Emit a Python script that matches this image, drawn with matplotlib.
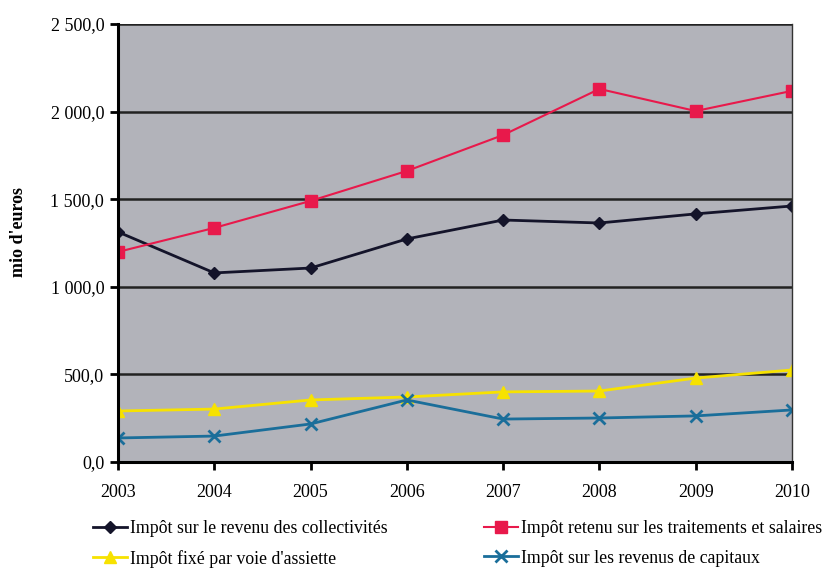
import matplotlib
matplotlib.use("Agg")
import matplotlib.pyplot as plt
from matplotlib.ticker import FuncFormatter

years = [2003, 2004, 2005, 2006, 2007, 2008, 2009, 2010]
collectivites = [1313, 1079, 1107, 1273, 1381, 1364, 1416, 1461]
salaires = [1199, 1336, 1490, 1661, 1866, 2129, 2003, 2118]
assiette = [291, 302, 354, 371, 400, 405, 479, 525]
capitaux = [137, 148, 217, 354, 245, 251, 263, 297]

labels = ["Impôt sur le revenu des collectivités",
          "Impôt retenu sur les traitements et salaires",
          "Impôt fixé par voie d'assiette",
          "Impôt sur les revenus de capitaux"]
yticks = [0, 500, 1000, 1500, 2000, 2500]

plt.rcParams['font.family'] = ['Liberation Serif', 'DejaVu Serif']

fig = plt.figure(figsize=(8.23, 5.70), dpi=100)
ax = fig.add_axes([0.1434, 0.1895, 0.8189, 0.7685])
ax.set_facecolor('#b2b3ba')

l0, = ax.plot(years, collectivites, color='#14142a', marker='D', markersize=6, lw=2, label=labels[0])
l1, = ax.plot(years, salaires, color='#e8194b', marker='s', markersize=8, lw=1.5, label=labels[1])
l2, = ax.plot(years, assiette, color='#f7e200', marker='^', markersize=8, lw=2, label=labels[2])
l3, = ax.plot(years, capitaux, color='#1a6e9a', marker='x', markersize=9, mew=2, lw=2, label=labels[3])

ax.set_xlim(2003, 2010)
ax.set_ylim(0, 2500)
ax.set_xticks(years)
ax.set_yticks(yticks)
ax.yaxis.set_major_formatter(FuncFormatter(
    lambda v, p: f"{v:,.1f}".replace(",", " ").replace(".", ",")))
ax.grid(axis='y', color='#222222', lw=1.8)
ax.set_axisbelow(True)
ax.spines['top'].set_visible(False)
ax.spines['right'].set_color('#333333')
ax.spines['right'].set_linewidth(1)
ax.spines['left'].set_linewidth(2.2)
ax.spines['bottom'].set_linewidth(2.2)
ax.tick_params(axis='both', direction='out', length=6, width=2, labelsize=13)
ax.tick_params(axis='x', pad=10)
ax.tick_params(axis='y', pad=4)
fig.text(0.022, 0.593, "mio d'euros", rotation=90, fontsize=13, fontweight='bold',
         ha='center', va='center')

common = dict(loc='upper left', ncol=1, frameon=False, fontsize=12.8,
              handlelength=1.9, handletextpad=0.2, labelspacing=0.72,
              borderpad=0, borderaxespad=0)
fig.legend([l0, l2], [labels[0], labels[2]], bbox_to_anchor=(0.113, 0.088), **common)
fig.legend([l1, l3], [labels[1], labels[3]], bbox_to_anchor=(0.588, 0.088), **common)
fig.savefig("out.png", dpi=100, facecolor='white')
